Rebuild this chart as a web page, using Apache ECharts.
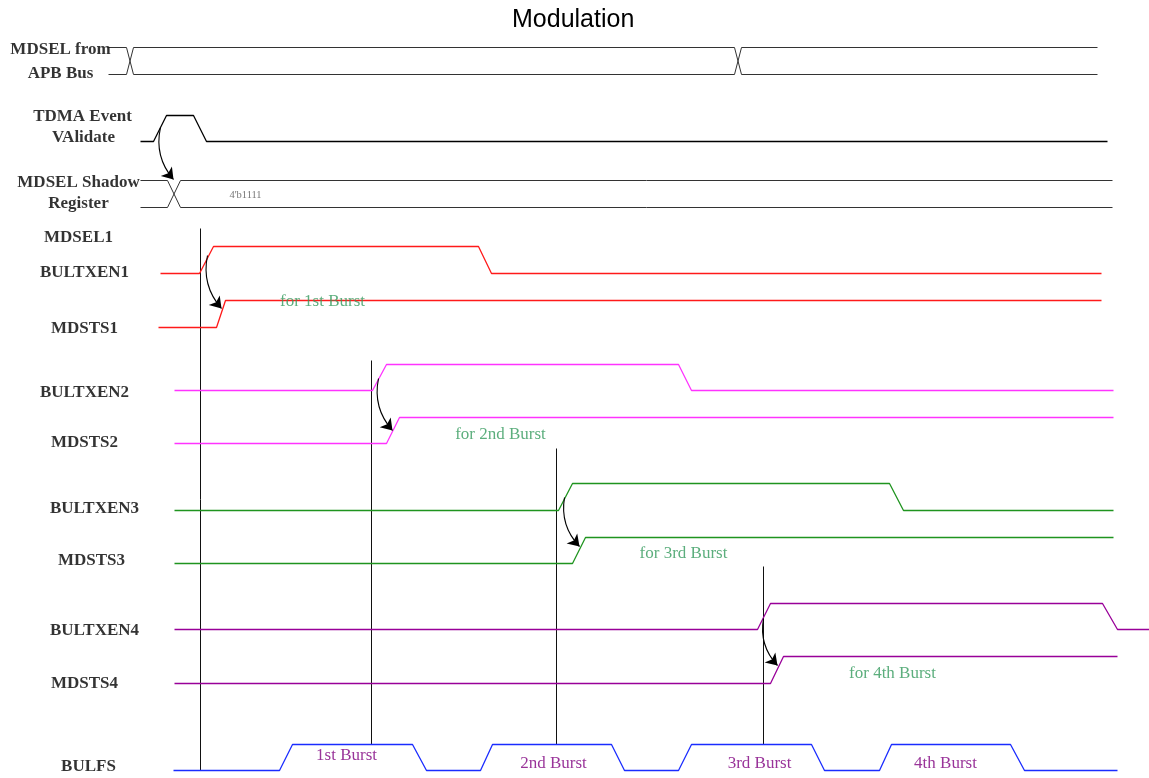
<!DOCTYPE html>
<html>
<head>
<meta charset="utf-8">
<script src="https://cdn.jsdelivr.net/npm/echarts@6/dist/echarts.min.js"></script>
<style>html,body{margin:0;padding:0;background:#fff}#c{width:1149px;height:778px}</style>
</head>
<body>
<div id="c"></div>
<script>
// ---- DATA (time axis = horizontal, row levels = vertical) ----
const rowNames = ["TDMA","BULTXEN1","MDSTS1","BULTXEN2","MDSTS2","BULTXEN3","MDSTS3","BULTXEN4","MDSTS4","BULFS"];
const rowLow  = [141, 273, 327, 390, 443, 510, 563, 629, 683, 770];
const rowHigh = [115, 246, 300, 364, 417, 483, 537, 603, 656, 744];
// waveforms: [time, level 0/1]
const wTDMA     = [[140,0],[153,0],[166,1],[193,1],[206,0],[1107,0]];
const wBULTXEN1 = [[160,0],[199,0],[213,1],[478,1],[491,0],[1101,0]];
const wMDSTS1   = [[158,0],[216,0],[225,1],[1101,1]];
const wBULTXEN2 = [[174,0],[372,0],[386,1],[678,1],[691,0],[1113,0]];
const wMDSTS2   = [[174,0],[386,0],[399,1],[1113,1]];
const wBULTXEN3 = [[174,0],[558,0],[572,1],[889,1],[903,0],[1113,0]];
const wMDSTS3   = [[174,0],[572,0],[585,1],[1113,1]];
const wBULTXEN4 = [[174,0],[757,0],[770,1],[1102,1],[1117,0],[1149,0]];
const wMDSTS4   = [[174,0],[770,0],[783,1],[1117,1]];
const wBULFS    = [[173,0],[279,0],[292,1],[412,1],[426,0],[480,0],[492,1],[611,1],[624,0],[678,0],[691,1],[811,1],[824,0],[879,0],[891,1],[1010,1],[1024,0],[1117,0]];
const waves = [wTDMA,wBULTXEN1,wMDSTS1,wBULTXEN2,wMDSTS2,wBULTXEN3,wMDSTS3,wBULTXEN4,wMDSTS4,wBULFS];
const waveColors = ["#000000","#ff1a1a","#ff1a1a","#ff33ff","#ff33ff","#1f941f","#1f941f","#990099","#990099","#1a2cff"];

// bus signals: rails top/bottom, span, crossing intervals
const busAPB    = {top:47, bot:74, start:108, end:1097, cross:[[126,133],[734,741]]};
const busShadow = {top:180, bot:207, start:140, end:1112, cross:[[167,180]]};

// vertical burst markers
const markerT   = [200, 371, 556, 763];
const markerTop = [228, 360, 448, 566];
const markerBot = [770, 744, 744, 744];

// causal arrows [from, to]
const arrows = [
  [[160,127],[173,179]],
  [[207,255],[221,308]],
  [[378,378],[392,430]],
  [[564,497],[579,546]],
  [[763,618],[777,665]]
];

// signal labels
const sigLabels = ["MDSEL from","APB Bus","TDMA Event","VAlidate","MDSEL Shadow","Register","MDSEL1","BULTXEN1","MDSTS1","BULTXEN2","MDSTS2","BULTXEN3","MDSTS3","BULTXEN4","MDSTS4","BULFS"];
const sigLabelPos = [[60,49],[60,73],[82,116],[83,137],[78,182],[78,203],[78,237],[84,272],[84,328],[84,392],[84,442],[94,508],[91,560],[94,630],[84,683],[88,766]];
const noteLabels = ["for 1st Burst","for 2nd Burst","for 3rd Burst","for 4th Burst"];
const notePos = [[322,301],[500,434],[683,553],[892,673]];
const burstLabels = ["1st Burst","2nd Burst","3rd Burst","4th Burst"];
const burstPos = [[346,755],[553,763],[759,763],[945,763]];
const regValue = "4'b1111";
const regValuePos = [245,195];

// ---- BUILD ----
const series = [];
waves.forEach((w,i)=>{
  series.push({type:'line', name:rowNames[i], data:w.map(p=>[p[0], p[1]?rowHigh[i]:rowLow[i]]),
    symbol:'none', lineStyle:{color:waveColors[i], width:1.3}, silent:true, z:3});
});
function busLines(b){
  const a=[[b.start,b.top]], c=[[b.start,b.bot]];
  let ya=b.top, yc=b.bot;
  b.cross.forEach(x=>{
    a.push([x[0],ya]); c.push([x[0],yc]);
    const t=ya; ya=yc; yc=t;
    a.push([x[1],ya]); c.push([x[1],yc]);
  });
  a.push([b.end,ya]); c.push([b.end,yc]);
  return [a,c];
}
[busAPB,busShadow].forEach(b=>{
  busLines(b).forEach(d=>series.push({type:'line', data:d, symbol:'none', lineStyle:{color:'#333', width:1}, silent:true}));
});
markerT.forEach((t,i)=>{
  series.push({type:'line', data:[[t,markerTop[i]],[t,markerBot[i]]], symbol:'none', lineStyle:{color:'#111', width:1}, silent:true, z:2});
});
series.push({type:'lines', coordinateSystem:'cartesian2d', symbol:['none','arrow'], symbolSize:[4,11],
  lineStyle:{color:'#000', width:1.1, opacity:1, curveness:-0.25}, data:arrows.map(a=>({coords:a})), silent:true, z:4});

function textSeries(names, pos, style){
  return {type:'scatter', symbolSize:1, itemStyle:{color:'rgba(0,0,0,0)'}, silent:true, z:5,
    data:names.map((n,i)=>({name:n, value:pos[i]})),
    label:Object.assign({show:true, position:'inside', formatter:p=>p.name, align:'center', verticalAlign:'middle'}, style)};
}
series.push(textSeries(sigLabels, sigLabelPos, {fontFamily:'Liberation Serif', fontWeight:'bold', fontSize:17, color:'#000'}));
series.push(textSeries(noteLabels, notePos, {fontFamily:'Liberation Serif', fontSize:17, color:'#339a5c'}));
series.push(textSeries(burstLabels, burstPos, {fontFamily:'Liberation Serif', fontSize:17, color:'#800080'}));
series.push(textSeries([regValue], [regValuePos], {fontFamily:'Liberation Serif', fontSize:10.5, color:'#555'}));

const chart = echarts.init(document.getElementById('c'), null, {renderer:'canvas'});
chart.setOption({
  animation:false,
  backgroundColor:'#fff',
  title:{text:'Modulation', left:507, top:3, textStyle:{fontFamily:'Liberation Sans', fontSize:25, fontWeight:'normal', color:'#000'}},
  grid:{left:0, right:0, top:0, bottom:0},
  xAxis:{type:'value', min:-0.5, max:1148.5, show:false},
  yAxis:{type:'value', min:-0.5, max:777.5, inverse:true, show:false},
  series:series
});
</script>
</body>
</html>
